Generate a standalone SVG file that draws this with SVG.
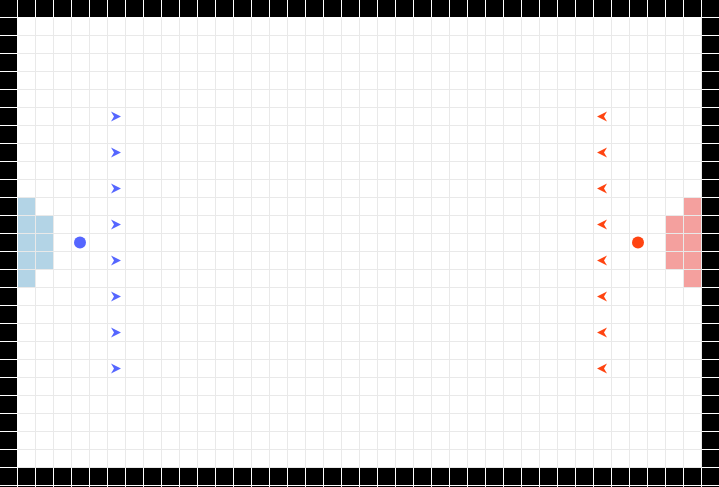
<svg xmlns="http://www.w3.org/2000/svg" xmlns:xlink="http://www.w3.org/1999/xlink" width="719" height="487" viewBox="0 0 719 487">
  <defs>
    <pattern id="wall" x="0" y="0" width="18" height="18" patternUnits="userSpaceOnUse">
      <rect width="18" height="18" fill="#ffffff"/>
      <rect width="17" height="17" fill="#000000"/>
    </pattern>
    <pattern id="grid" x="0" y="0" width="18" height="18" patternUnits="userSpaceOnUse">
      <rect width="18" height="18" fill="#ffffff"/>
      <path d="M17.5 0 V18 M0 17.5 H18" stroke="#e9e9e9" stroke-width="1" fill="none"/>
    </pattern>
    <path id="arrow" d="M-5 -5 L5 0 L-5 5 L-2 0 Z"/>
    <style>
      .blue-zone { fill: #b3d4e6; }
      .red-zone { fill: #f4a09e; }
      .blue { fill: #5566ff; }
      .red { fill: #ff4411; }
    </style>
  </defs>

  <rect id="walls" x="0" y="0" width="719" height="487" fill="url(#wall)"/>
  <rect id="field" x="18" y="18" width="684" height="450" fill="url(#grid)"/>

  <g id="blue-base">
    <rect class="blue-zone" x="18" y="198" width="17" height="17"/>
    <rect class="blue-zone" x="18" y="216" width="17" height="17"/>
    <rect class="blue-zone" x="36" y="216" width="17" height="17"/>
    <rect class="blue-zone" x="18" y="234" width="17" height="17"/>
    <rect class="blue-zone" x="36" y="234" width="17" height="17"/>
    <rect class="blue-zone" x="18" y="252" width="17" height="17"/>
    <rect class="blue-zone" x="36" y="252" width="17" height="17"/>
    <rect class="blue-zone" x="18" y="270" width="17" height="17"/>
  </g>

  <g id="red-base">
    <rect class="red-zone" x="684" y="198" width="17" height="17"/>
    <rect class="red-zone" x="666" y="216" width="17" height="17"/>
    <rect class="red-zone" x="684" y="216" width="17" height="17"/>
    <rect class="red-zone" x="666" y="234" width="17" height="17"/>
    <rect class="red-zone" x="684" y="234" width="17" height="17"/>
    <rect class="red-zone" x="666" y="252" width="17" height="17"/>
    <rect class="red-zone" x="684" y="252" width="17" height="17"/>
    <rect class="red-zone" x="684" y="270" width="17" height="17"/>
  </g>

  <g id="blue-player">
    <circle class="blue" cx="80" cy="242.5" r="6"/>
  </g>
  <g id="red-player">
    <circle class="red" cx="638" cy="242.5" r="6"/>
  </g>

  <g id="blue-arrows" class="blue">
    <use xlink:href="#arrow" transform="translate(116 116.5)"/>
    <use xlink:href="#arrow" transform="translate(116 152.5)"/>
    <use xlink:href="#arrow" transform="translate(116 188.5)"/>
    <use xlink:href="#arrow" transform="translate(116 224.5)"/>
    <use xlink:href="#arrow" transform="translate(116 260.5)"/>
    <use xlink:href="#arrow" transform="translate(116 296.5)"/>
    <use xlink:href="#arrow" transform="translate(116 332.5)"/>
    <use xlink:href="#arrow" transform="translate(116 368.5)"/>
  </g>

  <g id="red-arrows" class="red">
    <use xlink:href="#arrow" transform="translate(602 116.5) scale(-1 1)"/>
    <use xlink:href="#arrow" transform="translate(602 152.5) scale(-1 1)"/>
    <use xlink:href="#arrow" transform="translate(602 188.5) scale(-1 1)"/>
    <use xlink:href="#arrow" transform="translate(602 224.5) scale(-1 1)"/>
    <use xlink:href="#arrow" transform="translate(602 260.5) scale(-1 1)"/>
    <use xlink:href="#arrow" transform="translate(602 296.5) scale(-1 1)"/>
    <use xlink:href="#arrow" transform="translate(602 332.5) scale(-1 1)"/>
    <use xlink:href="#arrow" transform="translate(602 368.5) scale(-1 1)"/>
  </g>
</svg>
